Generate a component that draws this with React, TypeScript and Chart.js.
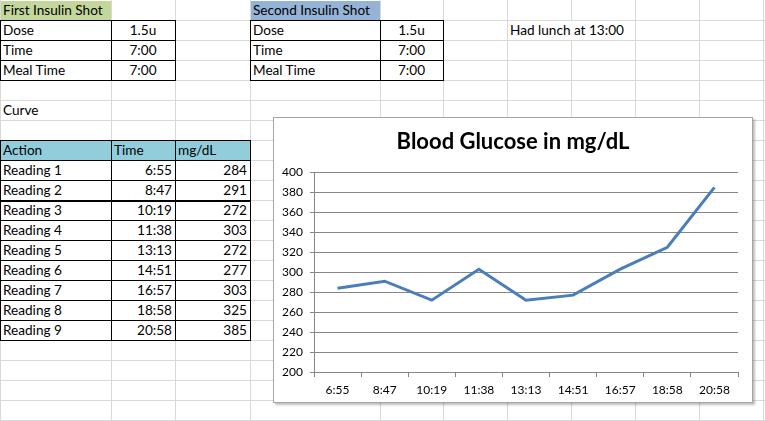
import React, { useEffect, useRef } from 'react';
import { Chart, registerables } from 'chart.js';

Chart.register(...registerables);

const readingNames = ['Reading 1', 'Reading 2', 'Reading 3', 'Reading 4', 'Reading 5', 'Reading 6', 'Reading 7', 'Reading 8', 'Reading 9'];
const readingTimes = ['6:55', '8:47', '10:19', '11:38', '13:13', '14:51', '16:57', '18:58', '20:58'];
const glucoseValues = [284, 291, 272, 303, 272, 277, 303, 325, 385];
const shotLabels = ['Dose', 'Time', 'Meal Time'];
const firstShotValues = ['1.5u', '7:00', '7:00'];
const secondShotValues = ['1.5u', '7:00', '7:00'];
const chartTitle = 'Blood Glucose in mg/dL';
const yMin = 200;
const yMax = 400;
const yStep = 20;

const COLS = [0, 111, 175, 250, 380, 443, 507, 571, 635, 699, 763];
const ROW_H = 20;
const FONT = 'Lato, "Open Sans", sans-serif';

type CellProps = {
  col: number;
  row: number;
  span?: number;
  text?: string;
  align?: 'left' | 'right' | 'center';
  bg?: string;
};

function Cell({ col, row, span = 1, text = '', align = 'left', bg }: CellProps) {
  const left = COLS[col];
  const right = COLS[col + span];
  return (
    <div
      style={{
        position: 'absolute',
        left: left + (bg ? 1 : 0),
        top: row * ROW_H + (bg ? 1 : 0),
        width: right - left - (bg ? 1 : 0),
        height: ROW_H - (bg ? 1 : 0),
        boxSizing: 'border-box',
        background: bg,
        display: 'flex',
        alignItems: 'flex-end',
        justifyContent: align === 'left' ? 'flex-start' : align === 'right' ? 'flex-end' : 'center',
        padding: bg ? '0 3px 1px 2px' : '0 3px 1px 3px',
        fontFamily: FONT,
        fontSize: 13.6,
        lineHeight: '18px',
        color: '#000',
        whiteSpace: 'nowrap',
      }}
    >
      {text}
    </div>
  );
}

function HLine({ x1, x2, y, color, w = 1 }: { x1: number; x2: number; y: number; color: string; w?: number }) {
  return <div style={{ position: 'absolute', left: x1, top: y, width: x2 - x1 + 1, height: w, background: color }} />;
}
function VLine({ x, y1, y2, color, w = 1 }: { x: number; y1: number; y2: number; color: string; w?: number }) {
  return <div style={{ position: 'absolute', left: x, top: y1, width: w, height: y2 - y1 + 1, background: color }} />;
}

function BorderedBlock({ c1, c2, r1, r2, thickAfter }: { c1: number; c2: number; r1: number; r2: number; thickAfter?: number }) {
  const els: React.ReactNode[] = [];
  const x1 = COLS[c1];
  const x2 = COLS[c2];
  for (let r = r1; r <= r2; r++) {
    const w = thickAfter !== undefined && r === thickAfter ? 2 : 1;
    els.push(<HLine key={'h' + r} x1={x1} x2={x2} y={r * ROW_H} color="#000" w={w} />);
  }
  for (let c = c1; c <= c2; c++) {
    els.push(<VLine key={'v' + c} x={COLS[c]} y1={r1 * ROW_H} y2={r2 * ROW_H} color="#000" />);
  }
  return <>{els}</>;
}

function GlucoseChart() {
  const ref = useRef<HTMLCanvasElement | null>(null);
  useEffect(() => {
    if (!ref.current) return;
    const yTickValues: number[] = [];
    for (let v = yMin; v <= yMax; v += yStep) yTickValues.push(v);
    const chart = new Chart(ref.current, {
      type: 'line',
      data: {
        labels: readingTimes,
        datasets: [
          {
            data: glucoseValues,
            borderColor: '#4a7ebb',
            borderWidth: 3,
            pointRadius: 0,
            tension: 0,
            fill: false,
          },
        ],
      },
      options: {
        responsive: false,
        animation: false,
        layout: { padding: 0 },
        plugins: {
          legend: { display: false },
          tooltip: { enabled: false },
          title: {
            display: true,
            text: chartTitle,
            color: '#000',
            font: { family: FONT, size: 22, weight: 'bold' },
            padding: { top: 11, bottom: 17 },
          },
        },
        scales: {
          x: {
            offset: true,
            grid: {
              offset: true,
              drawOnChartArea: false,
              drawTicks: true,
              tickLength: 5,
              color: '#868686',
            },
            border: { color: '#868686', width: 1 },
            ticks: {
              color: '#000',
              font: { family: FONT, size: 12 },
              padding: 6,
              maxRotation: 0,
              autoSkip: false,
            },
            afterFit: (s: any) => {
              s.height = 30;
            },
          },
          y: {
            min: yMin,
            max: yMax,
            afterBuildTicks: (s: any) => {
              s.ticks = yTickValues.map((v) => ({ value: v }));
            },
            grid: {
              color: '#868686',
              tickLength: 4,
              drawTicks: true,
            },
            border: { color: '#868686', width: 1 },
            ticks: {
              color: '#000',
              font: { family: FONT, size: 12 },
              padding: 7,
            },
            afterFit: (s: any) => {
              s.width = 40;
            },
          },
          yRightSpace: {
            position: 'right',
            display: true,
            min: yMin,
            max: yMax,
            grid: { display: false, drawTicks: false },
            border: { display: false },
            ticks: { display: false },
            afterFit: (s: any) => {
              s.width = 14;
            },
          },
        },
      },
    });
    return () => chart.destroy();
  }, []);
  return <canvas ref={ref} width={478} height={284} style={{ display: 'block' }} />;
}

export default function App() {
  const gridColor = '#d9d9d9';
  const W = 765;
  const H = 421;
  const grid: React.ReactNode[] = [];
  COLS.forEach((x, i) => grid.push(<VLine key={'gv' + i} x={x} y1={0} y2={H} color={gridColor} />));
  for (let r = 1; r * ROW_H < H; r++) grid.push(<HLine key={'gh' + r} x1={0} x2={W} y={r * ROW_H} color={gridColor} />);

  return (
    <div style={{ position: 'fixed', left: 0, top: 0, width: W, height: H, background: '#fff', overflow: 'hidden' }}>
      {grid}
      {/* First shot */}
      <Cell col={0} row={0} text="First Insulin Shot" bg="#c4d79b" />
      {shotLabels.map((l, i) => (
        <React.Fragment key={'f' + i}>
          <Cell col={0} row={1 + i} text={l} bg="#fff" />
          <Cell col={1} row={1 + i} text={firstShotValues[i]} align="center" bg="#fff" />
        </React.Fragment>
      ))}
      <BorderedBlock c1={0} c2={2} r1={1} r2={4} />
      {/* Second shot */}
      <Cell col={3} row={0} text="Second Insulin Shot" bg="#95b3d7" />
      {shotLabels.map((l, i) => (
        <React.Fragment key={'s' + i}>
          <Cell col={3} row={1 + i} text={l} bg="#fff" />
          <Cell col={4} row={1 + i} text={secondShotValues[i]} align="center" bg="#fff" />
        </React.Fragment>
      ))}
      <BorderedBlock c1={3} c2={5} r1={1} r2={4} />
      <Cell col={6} row={1} span={2} text="Had lunch at 13:00" bg="#fff" />
      <Cell col={0} row={5} text="Curve" />
      {/* Readings */}
      <Cell col={0} row={7} text="Action" bg="#92cddc" />
      <Cell col={1} row={7} text="Time" bg="#92cddc" />
      <Cell col={2} row={7} text="mg/dL" bg="#92cddc" />
      {readingNames.map((n, i) => (
        <React.Fragment key={'r' + i}>
          <Cell col={0} row={8 + i} text={n} bg="#fff" />
          <Cell col={1} row={8 + i} text={readingTimes[i]} align="right" bg="#fff" />
          <Cell col={2} row={8 + i} text={String(glucoseValues[i])} align="right" bg="#fff" />
        </React.Fragment>
      ))}
      <BorderedBlock c1={0} c2={3} r1={7} r2={17} thickAfter={10} />
      {/* Chart */}
      <div
        style={{
          position: 'absolute',
          left: 273,
          top: 117,
          width: 480,
          height: 286,
          boxSizing: 'border-box',
          border: '1px solid #a6a6a6',
          background: '#fff',
          boxShadow: '2px 2px 2px rgba(0,0,0,0.25)',
        }}
      >
        <GlucoseChart />
      </div>
    </div>
  );
}
